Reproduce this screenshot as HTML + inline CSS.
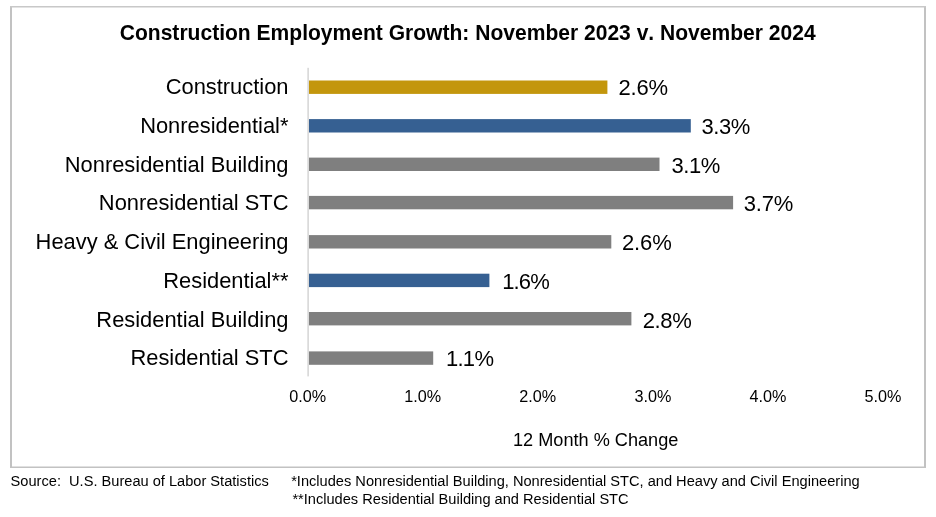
<!DOCTYPE html>
<html><head><meta charset="utf-8"><title>Construction Employment Growth</title>
<style>
html,body{margin:0;padding:0;background:#fff;}
body{width:936px;height:517px;position:relative;overflow:hidden;font-family:"Liberation Sans",Arial,sans-serif;color:#000;}
.t{position:absolute;white-space:nowrap;line-height:1;font-kerning:none;font-feature-settings:"kern" 0,"liga" 0;}
.title{left:-0.3px;width:936px;text-align:center;top:21.55px;transform:scaleY(1.06);transform-origin:50% 80%;font-weight:bold;font-size:21.05px;}
.cat{right:647.5px;font-size:21.88px;text-align:right;}
.val{font-size:22px;}
.tick{font-size:16.2px;width:80px;text-align:center;top:388.2px;}
.xl{font-size:18.15px;top:431.2px;left:395.7px;width:400px;text-align:center;}
.fn{font-size:14.61px;}
</style></head><body>
<div class="t title">Construction Employment Growth: November 2023 v. November 2024</div>

<svg width="936" height="517" viewBox="0 0 936 517" style="position:absolute;left:0;top:0"><rect x="10" y="6" width="2" height="462" fill="#c2c2c2"/><rect x="924" y="6" width="2" height="462" fill="#c2c2c2"/><rect x="10" y="6" width="916" height="1.5" fill="#c8c8c8"/><rect x="10" y="466.5" width="916" height="1.5" fill="#c2c2c2"/><rect x="307.4" y="67.8" width="1.4" height="308.6" fill="#d2d2d2"/><rect x="309.0" y="80.50" width="298.4" height="13.4" fill="#C3960C"/><rect x="309.0" y="119.10" width="381.8" height="13.4" fill="#366092"/><rect x="309.0" y="157.60" width="350.5" height="13.4" fill="#7F7F7F"/><rect x="309.0" y="195.90" width="424.1" height="13.4" fill="#7F7F7F"/><rect x="309.0" y="235.10" width="302.3" height="13.4" fill="#7F7F7F"/><rect x="309.0" y="273.70" width="180.4" height="13.4" fill="#366092"/><rect x="309.0" y="312.00" width="322.4" height="13.4" fill="#7F7F7F"/><rect x="309.0" y="351.40" width="124.2" height="13.4" fill="#7F7F7F"/></svg>
<div class="t cat" style="top:76px">Construction</div>
<div class="t val" style="left:618.39px;top:77px;letter-spacing:-0.13px">2.6%</div>
<div class="t cat" style="top:115px">Nonresidential*</div>
<div class="t val" style="left:701.40px;top:116px;letter-spacing:-0.38px">3.3%</div>
<div class="t cat" style="top:154px">Nonresidential Building</div>
<div class="t val" style="left:671.58px;top:155px;letter-spacing:-0.49px">3.1%</div>
<div class="t cat" style="top:192px">Nonresidential STC</div>
<div class="t val" style="left:743.70px;top:193px;letter-spacing:-0.15px">3.7%</div>
<div class="t cat" style="top:231px">Heavy &amp; Civil Engineering</div>
<div class="t val" style="left:621.88px;top:232px;letter-spacing:-0.06px">2.6%</div>
<div class="t cat" style="top:270px">Residential**</div>
<div class="t val" style="left:502.31px;top:271px;letter-spacing:-0.91px">1.6%</div>
<div class="t cat" style="top:309px">Residential Building</div>
<div class="t val" style="left:642.63px;top:310px;letter-spacing:-0.35px">2.8%</div>
<div class="t cat" style="top:347px">Residential STC</div>
<div class="t val" style="left:445.92px;top:348px;letter-spacing:-0.70px">1.1%</div>
<div class="t tick" style="left:267.7px">0.0%</div>
<div class="t tick" style="left:382.8px">1.0%</div>
<div class="t tick" style="left:497.8px">2.0%</div>
<div class="t tick" style="left:612.9px">3.0%</div>
<div class="t tick" style="left:727.9px">4.0%</div>
<div class="t tick" style="left:843.0px">5.0%</div>
<div class="t xl">12 Month % Change</div>
<div class="t fn" style="left:10.6px;top:474.0px">Source:&nbsp; U.S. Bureau of Labor Statistics</div>
<div class="t fn" style="left:291.2px;top:474.0px">*Includes Nonresidential Building, Nonresidential STC, and Heavy and Civil Engineering</div>
<div class="t fn" style="left:292.4px;top:492.0px">**Includes Residential Building and Residential STC</div>
</body></html>
